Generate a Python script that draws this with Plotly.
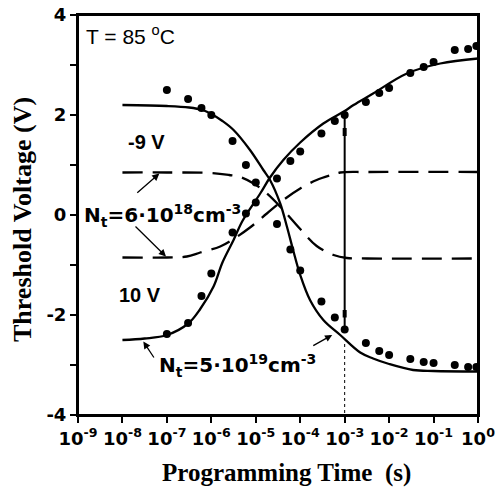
import plotly.graph_objects as go

# ---------------- data ----------------
# measured points (time in s, threshold voltage in V)
t_meas = [1e-7, 3e-7, 6e-7, 1e-6, 3e-6, 6e-6, 1e-5, 3e-5, 6e-5, 1e-4, 3e-4, 6e-4,
          1e-3, 3e-3, 6e-3, 1e-2, 3e-2, 6e-2, 1e-1, 3e-1, 6e-1, 0.92]
v_erase_meas = [2.50, 2.32, 2.14, 2.00, 1.48, 1.00, 0.65, -0.18, -0.69, -1.11, -1.73, -2.05,
                -2.29, -2.56, -2.72, -2.80, -2.88, -2.94, -2.96, -3.00, -3.04, -3.04]
v_prog_meas = [-2.38, -2.16, -1.62, -1.17, -0.35, 0.03, 0.25, 0.73, 1.08, 1.27, 1.63, 1.88,
               2.00, 2.26, 2.44, 2.54, 2.84, 2.96, 3.06, 3.30, 3.32, 3.38]

# simulated curves, Nt = 5e19 cm^-3 (solid) -- log10(time) exponents
e_erase_fit = [-8, -7, -6.5, -6.2, -6.0, -5.75, -5.5, -5.13, -4.83, -4.68, -4.45, -4.30,
               -4.16, -4.0, -3.78, -3.48, -3.10, -2.65, -2.36, -2.0, -1.46, -1.0, 0]
v_erase_fit = [2.20, 2.18, 2.15, 2.10, 2.02, 1.88, 1.70, 1.30, 0.90, 0.70, 0.23, -0.23,
               -0.70, -1.20, -1.70, -2.10, -2.40, -2.75, -2.87, -2.98, -3.10, -3.12, -3.13]
e_prog_fit = [-8, -7.5, -7, -6.52, -6.25, -5.95, -5.75, -5.5, -5.3, -4.9, -4.68, -4.38,
              -4.0, -3.48, -3.0, -2.8, -2.36, -1.6, -0.85, 0]
v_prog_fit = [-2.50, -2.47, -2.40, -2.17, -1.88, -1.43, -0.95, -0.50, -0.12, 0.43, 0.75, 1.10,
              1.45, 1.83, 2.08, 2.20, 2.43, 2.83, 3.03, 3.13]

# simulated curves, Nt = 6e18 cm^-3 (dashed)
e_erase_dash = [-8, -7, -6.0, -5.6, -5.35, -5.05, -4.75, -4.38, -4.0, -3.63, -3.25, -2.95, -2.5, 0]
v_erase_dash = [0.85, 0.85, 0.84, 0.80, 0.76, 0.63, 0.43, 0.10, -0.28, -0.62, -0.80, -0.86, -0.87, -0.87]
e_prog_dash = [-8, -7, -6.55, -6.25, -5.8, -5.5, -5.13, -4.75, -4.38, -4.0, -3.63, -3.3, -3.1, -2.5, 0]
v_prog_dash = [-0.85, -0.85, -0.83, -0.75, -0.63, -0.48, -0.25, 0.03, 0.30, 0.53, 0.70, 0.80, 0.85, 0.86, 0.86]

# window marker at 1 ms
t_window = 1e-3
v_window = [2.00, -2.29]

x_tick_exp = list(range(-9, 1))
y_ticks = [-4, -3, -2, -1, 0, 1, 2, 3, 4]
y_tick_text = ["-4", "", "-2", "", "0", "", "2", "", "4"]

# ---------------- figure ----------------
fig = go.Figure()

def curve(exps, vals, dash):
    fig.add_trace(go.Scatter(x=[10 ** e for e in exps], y=vals, mode="lines",
                             line=dict(color="black", width=2.3, dash=dash, shape="spline"),
                             showlegend=False, hoverinfo="skip"))

curve(e_erase_fit, v_erase_fit, "solid")
curve(e_prog_fit, v_prog_fit, "solid")
curve(e_erase_dash, v_erase_dash, "20px,10px")
curve(e_prog_dash, v_prog_dash, "20px,10px")

# vertical window line and dotted guide
fig.add_trace(go.Scatter(x=[t_window, t_window], y=v_window, mode="lines",
                         line=dict(color="black", width=2), showlegend=False))
fig.add_trace(go.Scatter(x=[t_window, t_window], y=[1.58, 1.74], mode="lines",
                         line=dict(color="black", width=4), showlegend=False))
fig.add_trace(go.Scatter(x=[t_window, t_window], y=[-1.9, -2.05], mode="lines",
                         line=dict(color="black", width=4), showlegend=False))
fig.add_trace(go.Scatter(x=[t_window, t_window], y=[-2.58, -4], mode="lines",
                         line=dict(color="black", width=1, dash="dot"), showlegend=False))

for v in (v_erase_meas, v_prog_meas):
    fig.add_trace(go.Scatter(x=t_meas, y=v, mode="markers",
                             marker=dict(color="black", size=8), showlegend=False,
                             cliponaxis=True))

lab_font = dict(family="DejaVu Sans", size=18, color="black")
ann = []
def text(x, y, s, size=20, anchor="center", family="DejaVu Sans"):
    ann.append(dict(x=x, y=y, xref="x", yref="y", text=s, showarrow=False,
                    xanchor=anchor, yanchor="middle",
                    font=dict(family=family, size=size, color="black")))

def arrow(xt, yt, xh, yh):
    ann.append(dict(x=xh, y=yh, ax=xt, ay=yt, xref="x", yref="y", axref="x", ayref="y",
                    text="", showarrow=True, arrowhead=2, arrowsize=1.1, arrowwidth=1.3,
                    arrowcolor="black"))

text(-8.86, 3.6, "T = 85 <sup>o</sup>C", size=21, anchor="left", family="Liberation Sans")
text(-7.45, 1.46, "<b>-9 V</b>", size=20, family="Liberation Sans")
text(-7.6, -1.6, "<b>10 V</b>", size=20, family="Liberation Sans")
text(-8.92, 0.0, "<b>N<sub>t</sub>=6·10<sup>18</sup>cm<sup>-3</sup></b>", size=20, anchor="left")
text(-7.22, -3.0, "<b>N<sub>t</sub>=5·10<sup>19</sup>cm<sup>-3</sup></b>", size=20, anchor="left")

arrow(-7.7, 0.42, -7.17, 0.83)
arrow(-7.74, -0.2, -7.02, -0.83)
arrow(-7.27, -2.88, -7.53, -2.53)
arrow(-3.74, -2.63, -3.28, -2.4)

# axis titles as paper annotations
ann.append(dict(x=0.52, y=-0.145, xref="paper", yref="paper", showarrow=False,
                text="<b>Programming Time  (s)</b>", xanchor="center", yanchor="middle",
                font=dict(family="Liberation Serif", size=25, color="black")))
ann.append(dict(x=-0.1375, y=0.4875, xref="paper", yref="paper", showarrow=False,
                text="<b>Threshold Voltage (V)</b>", textangle=-90,
                xanchor="center", yanchor="middle",
                font=dict(family="Liberation Serif", size=26, color="black")))

fig.update_layout(
    width=495, height=490,
    margin=dict(l=78, r=17, t=15, b=75),
    paper_bgcolor="white", plot_bgcolor="white",
    annotations=ann,
    shapes=[dict(type="rect", xref="paper", yref="paper", x0=0, y0=0, x1=1, y1=1,
                 line=dict(color="black", width=2), layer="above")],
    xaxis=dict(type="log", range=[-9, 0], automargin=False,
               tickvals=[10 ** e for e in x_tick_exp],
               ticktext=["<b>10<sup>%d</sup></b>" % e for e in x_tick_exp],
               ticks="outside", ticklen=6, tickwidth=2, tickcolor="black",
               ticklabeloverflow="allow",
               showline=True, linecolor="black", linewidth=2, mirror=True,
               showgrid=False, zeroline=False, tickfont=lab_font),
    yaxis=dict(range=[-4, 4], tickvals=y_ticks, automargin=False,
               ticktext=["<b>%s</b>" % s if s else "" for s in y_tick_text],
               ticks="outside", ticklen=6, tickwidth=2, tickcolor="black",
               ticklabeloverflow="allow",
               showline=True, linecolor="black", linewidth=2, mirror=True,
               showgrid=False, zeroline=False, tickfont=lab_font),
)

# remove the default page margin so the figure fills the window exactly
fig.write_html("out.html", config={"displayModeBar": False},
               post_script="document.body.style.margin='0';")
